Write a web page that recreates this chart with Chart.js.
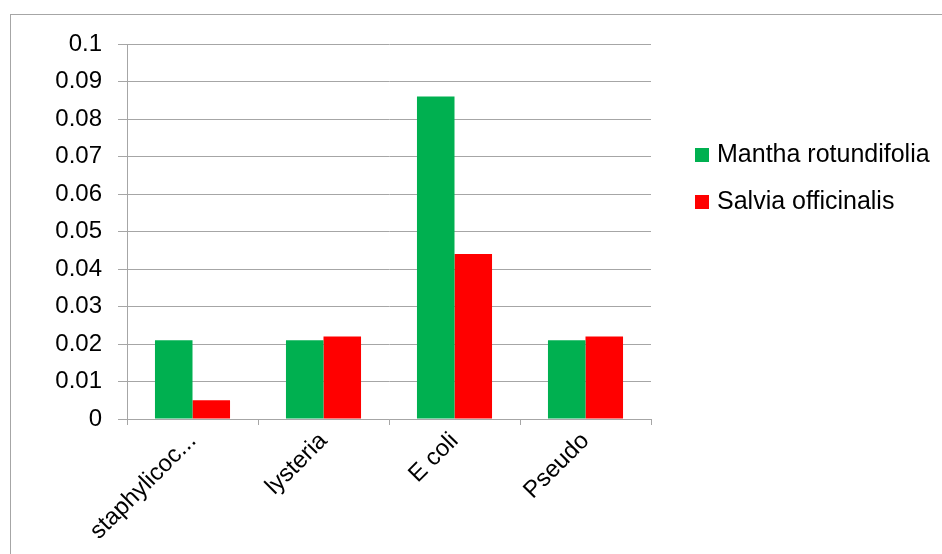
<!DOCTYPE html>
<html>
<head>
<meta charset="utf-8">
<script src="https://cdn.jsdelivr.net/npm/chart.js@4"></script>
<style>
html,body{margin:0;padding:0;background:#fff;overflow:hidden;width:942px;height:554px;}
#frame{position:absolute;left:10px;top:14px;width:1000px;height:600px;border:1px solid #a6a6a6;box-sizing:border-box;}
#wrap{position:absolute;left:0;top:0;width:942px;height:554px;}
</style>
</head>
<body>
<div id="frame"></div>
<div id="wrap"><canvas id="c" width="942" height="554"></canvas></div>
<script>
const categories = ["staphylicoc...", "lysteria", "E coli", "Pseudo"];
const seriesNames = ["Mantha rotundifolia", "Salvia officinalis"];
const manthaValues = [0.021, 0.021, 0.086, 0.021];
const salviaValues = [0.005, 0.022, 0.044, 0.022];
const yTickValues = [0, 0.01, 0.02, 0.03, 0.04, 0.05, 0.06, 0.07, 0.08, 0.09, 0.1];
const yTickLabels = ["0", "0.01", "0.02", "0.03", "0.04", "0.05", "0.06", "0.07", "0.08", "0.09", "0.1"];

const FONT = "'Liberation Sans', Arial, sans-serif";
const GRID = "#a6a6a6";

const legendPlugin = {
  id: 'sideLegend',
  afterDraw(chart) {
    const ctx = chart.ctx;
    const area = chart.chartArea;
    ctx.save();
    ctx.font = "25px " + FONT;
    ctx.textBaseline = "middle";
    ctx.textAlign = "left";
    chart.data.datasets.forEach((ds, i) => {
      const bx = area.right + 44;
      const by = 148 + i * 47;
      ctx.fillStyle = ds.backgroundColor;
      ctx.fillRect(bx, by, 14, 14);
      ctx.fillStyle = "#000";
      ctx.fillText(ds.label, bx + 22, by + 7);
    });
    ctx.restore();
  }
};

new Chart(document.getElementById('c'), {
  type: 'bar',
  data: {
    labels: categories,
    datasets: [
      { label: seriesNames[0], data: manthaValues, backgroundColor: '#00b050', borderWidth: 0 },
      { label: seriesNames[1], data: salviaValues, backgroundColor: '#ff0000', borderWidth: 0 }
    ]
  },
  options: {
    responsive: false,
    animation: false,
    devicePixelRatio: 1,
    layout: { padding: { left: 0, top: 44, right: 291, bottom: 0 } },
    datasets: { bar: { categoryPercentage: 0.573, barPercentage: 1.0 } },
    plugins: { legend: { display: false }, tooltip: { enabled: false } },
    scales: {
      x: {
        grid: { offset: true, drawOnChartArea: false, drawTicks: true, tickLength: 6, color: GRID },
        border: { display: true, color: GRID },
        ticks: { autoSkip: false, maxRotation: 45, minRotation: 45, padding: 2, color: '#000', font: { family: FONT, size: 24 } },
        afterFit(scale) { scale.height = 135; }
      },
      y: {
        min: 0, max: 0.1,
        afterBuildTicks(scale) { scale.ticks = yTickValues.map(v => ({ value: v })); },
        grid: { color: GRID, drawTicks: true, tickLength: 9 },
        border: { display: true, color: GRID },
        ticks: {
          padding: 16, color: '#000', font: { family: FONT, size: 24 },
          callback(value) { const i = yTickValues.findIndex(v => Math.abs(v - value) < 1e-9); return i >= 0 ? yTickLabels[i] : ''; }
        },
        afterFit(scale) { scale.width = 127; }
      }
    }
  },
  plugins: [legendPlugin]
});
</script>
</body>
</html>
